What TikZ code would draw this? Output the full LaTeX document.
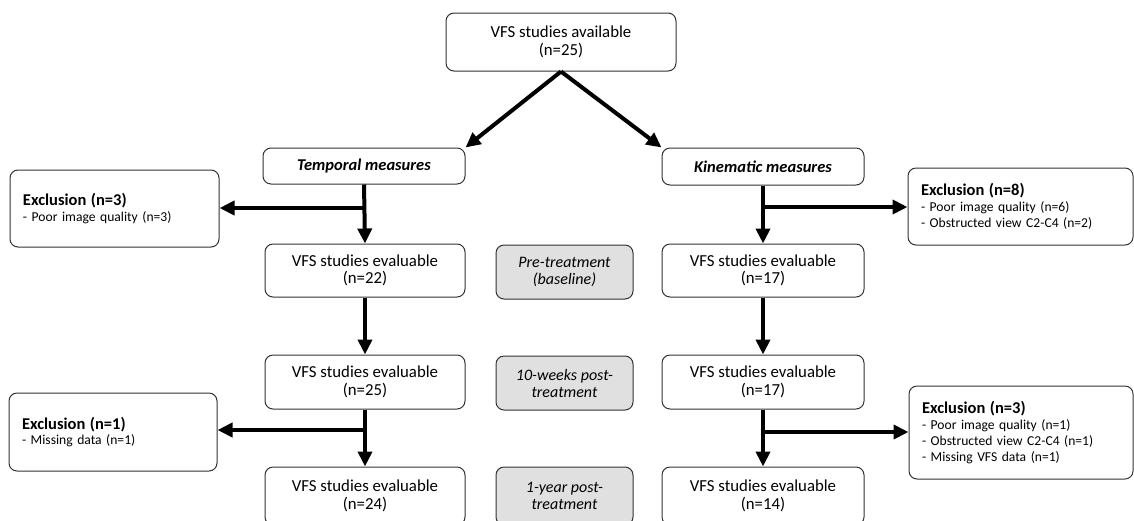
\documentclass[tikz,border=0pt]{standalone}
\usepackage{fontspec}
\setmainfont{Carlito}
\usepackage{tikz}
\usetikzlibrary{arrows.meta,positioning,calc}

\begin{document}
\begin{tikzpicture}[x=1pt, y=-1pt,
    box/.style={rectangle, rounded corners=8pt, draw=black!80, line width=1pt, fill=white, align=center,
        font=\fontsize{16.8}{17.5}\selectfont, inner sep=0pt},
    phase/.style={box, fill=black!12, font=\fontsize{16}{17}\selectfont\itshape},
    excl/.style={rectangle, rounded corners=8pt, draw=black!80, line width=1pt, fill=white, align=left,
        font=\fontsize{13.6}{15.7}\selectfont, inner xsep=13pt, inner ysep=0pt},
    arrow/.style={-{Triangle[length=15pt,width=14pt]}, line width=4pt, black}
]
\useasboundingbox (0,0) rectangle (1134,520);
\clip (0,0) rectangle (1134,520);

% Source
\node[box, minimum width=230pt, minimum height=58pt] (avail) at (561,42) {VFS studies available\\(n=25)};

% Measures
\node[box, minimum width=202pt, minimum height=36pt, font=\fontsize{16.5}{17.5}\selectfont\bfseries\itshape] (temp) at (364,166) {Temporal measures};
\node[box, minimum width=202pt, minimum height=37pt, font=\fontsize{16.5}{17.5}\selectfont\bfseries\itshape] (kin) at (763,166.5) {Kinematic measures};

% Temporal branch
\node[box, minimum width=200pt, minimum height=53pt] (t1) at (365,270.5) {VFS studies evaluable\\(n=22)};
\node[box, minimum width=200pt, minimum height=54pt] (t2) at (365,382) {VFS studies evaluable\\(n=25)};
\node[box, minimum width=200pt, minimum height=58pt] (t3) at (365,496) {VFS studies evaluable\\(n=24)};

% Kinematic branch
\node[box, minimum width=202pt, minimum height=53pt] (k1) at (763,270.5) {VFS studies evaluable\\(n=17)};
\node[box, minimum width=202pt, minimum height=54pt] (k2) at (763,382) {VFS studies evaluable\\(n=17)};
\node[box, minimum width=202pt, minimum height=58pt] (k3) at (763,496) {VFS studies evaluable\\(n=14)};

% Time points
\node[phase, minimum width=137pt, minimum height=54pt] (p1) at (564.5,272) {Pre-treatment\\(baseline)};
\node[phase, minimum width=137pt, minimum height=54pt] (p2) at (564.5,383) {10-weeks post-\\treatment};
\node[phase, minimum width=137pt, minimum height=58pt] (p3) at (564.5,496) {1-year post-\\treatment};

% Exclusions
\node[excl, text width=183pt, minimum height=77pt] (ex1) at (114.5,208.5)
    {{\fontsize{16.5}{18}\selectfont\bfseries Exclusion (n=3)}\\- Poor image quality (n=3)};
\node[excl, text width=182pt, minimum height=78pt] (ex2) at (113,432)
    {{\fontsize{16.5}{18}\selectfont\bfseries Exclusion (n=1)}\\- Missing data (n=1)};
\node[excl, text width=199pt, minimum height=77pt] (ex3) at (1020.5,206.5)
    {{\fontsize{16.5}{18}\selectfont\bfseries Exclusion (n=8)}\\- Poor image quality (n=6)\\- Obstructed view C2-C4 (n=2)};
\node[excl, text width=198pt, minimum height=93pt] (ex4) at (1021,432.5)
    {{\fontsize{16.5}{18}\selectfont\bfseries Exclusion (n=3)}\\- Poor image quality (n=1)\\- Obstructed view C2-C4 (n=1)\\- Missing VFS data (n=1)};

% Branch points
\coordinate (b1) at (365,208);
\coordinate (b2) at (365,430);
\coordinate (b3) at (763,207);
\coordinate (b4) at (763,432);

% Arrows
\draw[arrow] (avail.south) -- (temp.north east);
\draw[arrow] (avail.south) -- (kin.north west);

\draw[arrow] (temp.south) -- (t1.north);
\draw[arrow] (b1) -- (b1 -| ex1.east);
\draw[arrow] (t1.south) -- (t2.north);
\draw[arrow] (t2.south) -- (t3.north);
\draw[arrow] (b2) -- (b2 -| ex2.east);

\draw[arrow] (kin.south) -- (k1.north);
\draw[arrow] (b3) -- (b3 -| ex3.west);
\draw[arrow] (k1.south) -- (k2.north);
\draw[arrow] (k2.south) -- (k3.north);
\draw[arrow] (b4) -- (b4 -| ex4.west);

\end{tikzpicture}
\end{document}
